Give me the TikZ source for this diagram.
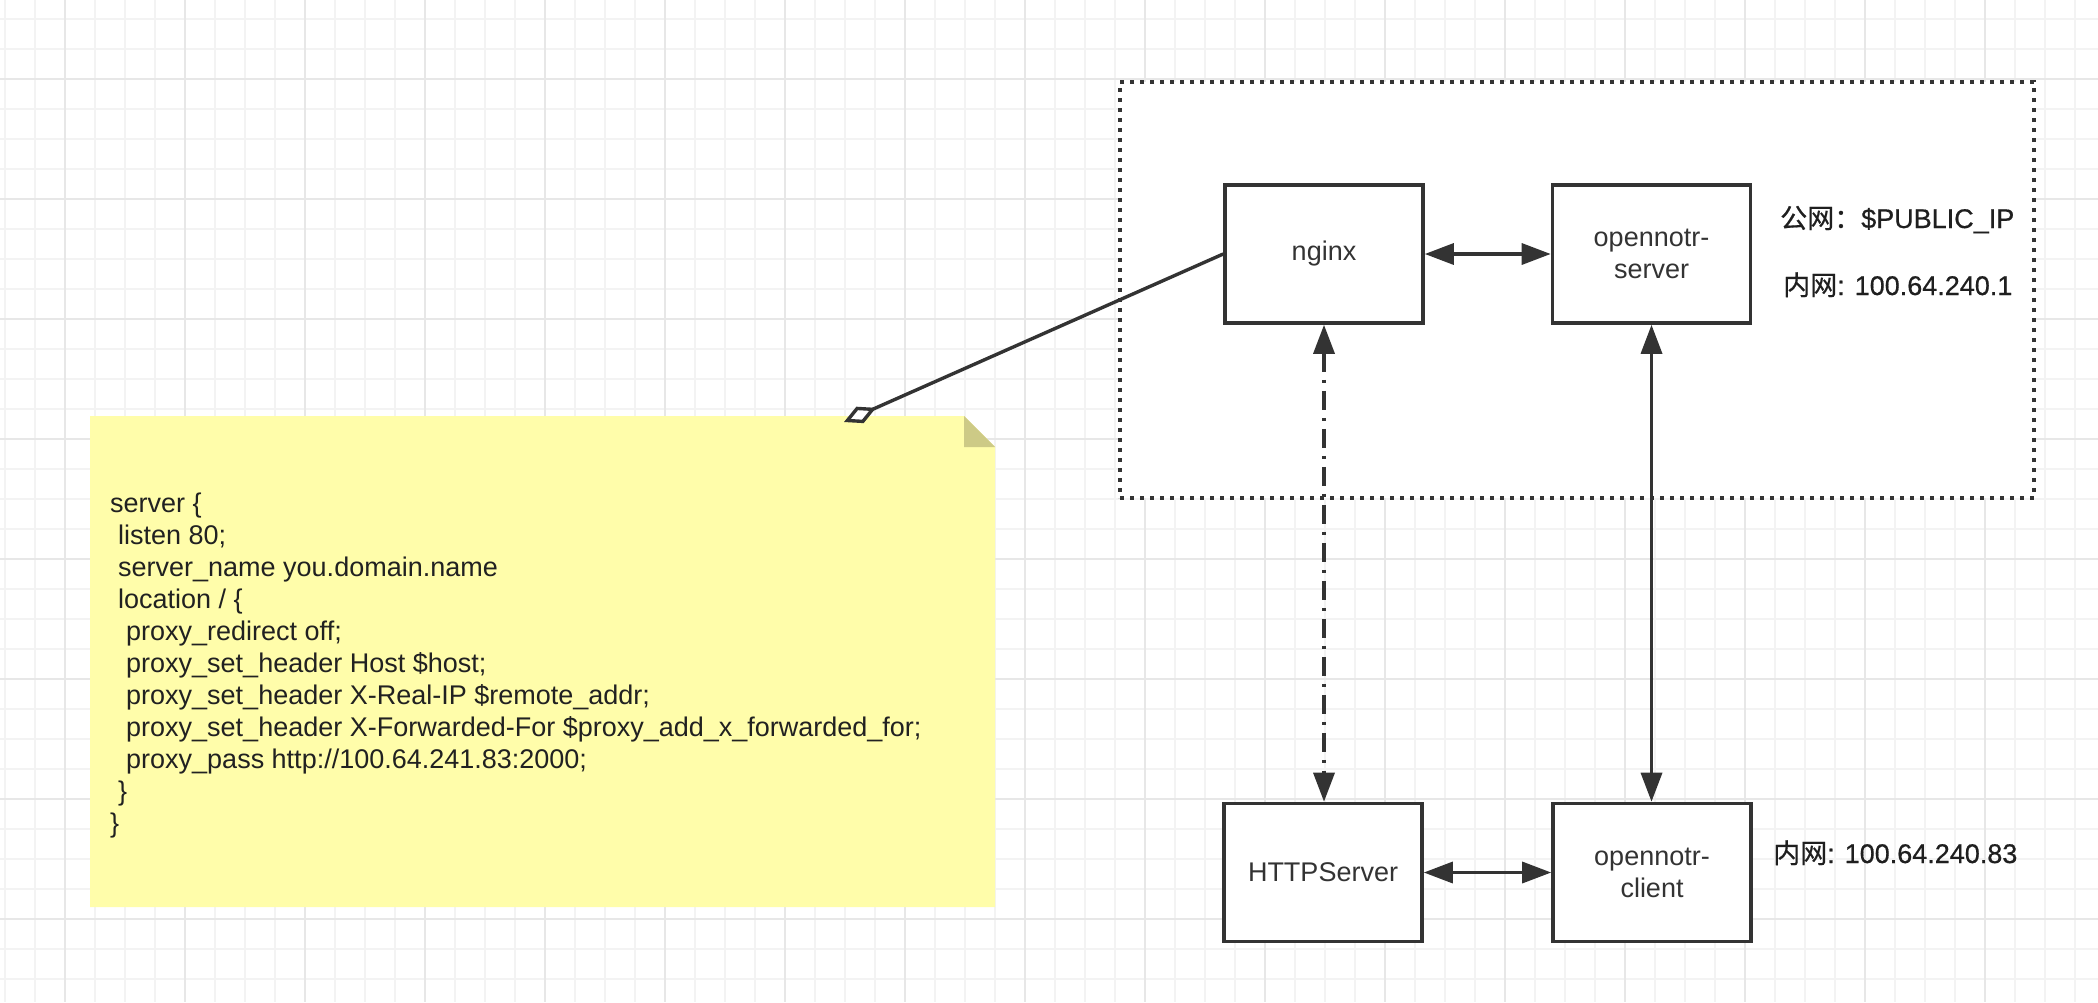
\documentclass[tikz,border=0pt]{standalone}
\usepackage{fontspec}
\setmainfont{Liberation Sans}
\newfontfamily\cjk{Noto Sans CJK SC}
\newfontfamily\cjkmed[FakeBold=0.6]{Noto Sans CJK SC}
\newfontfamily\labelfont[FakeBold=0.6]{Liberation Sans}
\usetikzlibrary{arrows.meta}
\definecolor{ink}{HTML}{333333}
\definecolor{gridminor}{HTML}{F3F3F3}
\definecolor{gridmajor}{HTML}{E7E7E7}
\definecolor{notefill}{HTML}{FFFDAA}
\definecolor{notefold}{HTML}{CDCA86}
\begin{document}
\begin{tikzpicture}[x=1pt,y=-1pt,
  srvbox/.style={draw=ink, line width=3.6pt, fill=white, minimum width=198pt, minimum height=138pt, inner sep=0pt, align=center, font=\fontsize{27}{32}\selectfont, text=ink},
  wire/.style={draw=ink, line width=3.4pt},
  bothtips/.style={{Triangle[length=29pt,width=21pt]}-{Triangle[length=29pt,width=21pt]}},
  dashdot/.style={dash pattern=on 19pt off 8pt on 3pt off 8pt},
  iplabel/.style={anchor=base west, inner sep=0pt, font=\labelfont\fontsize{27}{32}\selectfont, text=black!88},
  codetext/.style={anchor=base west, inner sep=0pt, font=\fontsize{27}{32}\selectfont, text=black!87},
  cluster/.style={draw=ink, line width=4pt, dash pattern=on 4pt off 6pt, fill=white, minimum width=914pt, minimum height=416pt, inner sep=0pt},
]
\useasboundingbox (0,0) rectangle (2098,1002);
\fill[white] (0,0) rectangle (2098,1002);
% grid
\foreach \gx in {5,35,...,2095} \draw[gridminor, line width=1.5pt] (\gx,0) -- (\gx,1002);
\foreach \gy in {19,49,...,999} \draw[gridminor, line width=1.5pt] (0,\gy) -- (2098,\gy);
\foreach \gx in {65,185,...,2045} \draw[gridmajor, line width=2pt] (\gx,0) -- (\gx,1002);
\foreach \gy in {79,199,...,919} \draw[gridmajor, line width=2pt] (0,\gy) -- (2098,\gy);
% dotted container
\node[cluster] (public) at (1577,290) {};
% note
\fill[notefill] (90,416) -- (964,416) -- (995,447) -- (995,907) -- (90,907) -- cycle;
\fill[notefold] (964,416) -- (964,447) -- (995,447) -- cycle;
\node[codetext] (code) at (110,512) {\vtop{\baselineskip=32pt
  \hbox{server \{}
  \hbox{\hskip8pt listen 80;}
  \hbox{\hskip8pt server\_name you.domain.name}
  \hbox{\hskip8pt location / \{}
  \hbox{\hskip16pt proxy\_redirect off;}
  \hbox{\hskip16pt proxy\_set\_header Host \$host;}
  \hbox{\hskip16pt proxy\_set\_header X-Real-IP \$remote\_addr;}
  \hbox{\hskip16pt proxy\_set\_header X-Forwarded-For \$proxy\_add\_x\_forwarded\_for;}
  \hbox{\hskip16pt proxy\_pass http://100.64.241.83:2000;}
  \hbox{\hskip8pt \}}
  \hbox{\}}}};
% boxes
\node[srvbox] (nginx) at (1324,254) {nginx};
\node[srvbox] (server) at (1651.5,254) {opennotr-\\server};
\node[srvbox] (http) at (1323,872.5) {HTTPServer};
\node[srvbox] (client) at (1652,872.5) {opennotr-\\client};
% connectors
\draw[wire, bothtips] (nginx) -- (server);
\draw[wire, bothtips] (http) -- (client);
\draw[wire, bothtips, dashdot] (nginx.south) -- (nginx.south |- http.north);
\draw[wire, bothtips] (server.south) -- (server.south |- client.north);
\coordinate (pin) at (844,422);
\draw[wire, -{Diamond[length=35pt,width=18pt,fill=white]}] (nginx.west) -- (pin);
% labels
\node[iplabel] (pub) at (1780,228) {{\cjkmed 公网：}\$PUBLIC\_IP};
\node[iplabel] (lan1) at (1783,295) {{\cjkmed 内网}: 100.64.240.1};
\node[iplabel] (lan2) at (1773,863) {{\cjkmed 内网}: 100.64.240.83};
\end{tikzpicture}
\end{document}
